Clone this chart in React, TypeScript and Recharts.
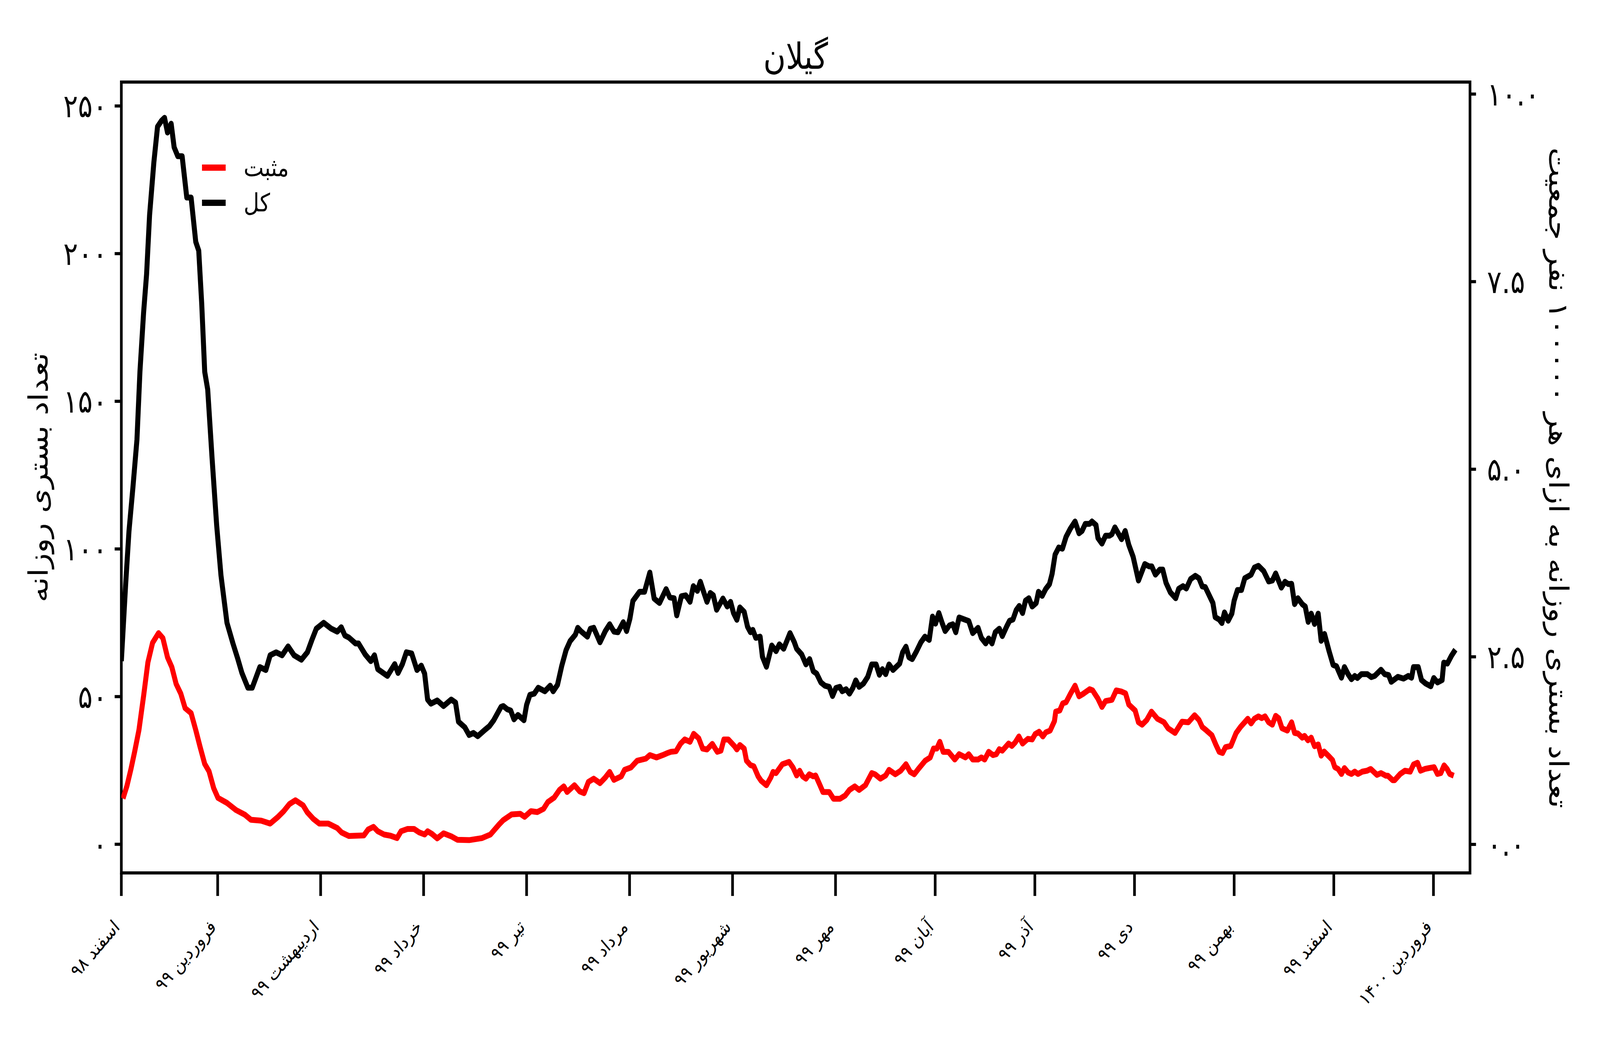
import { Line, LineChart, ReferenceArea, XAxis, YAxis } from 'recharts';

// days since 1 Esfand 1398
const totalDays = [
  0, 1.3, 2.3, 3.5, 4.7, 5.6, 6.7, 7.6, 8.5, 9.8, 10.9, 12.1, 13, 13.9, 15, 15.9, 17, 18.3, 19.7, 21,
  22.4, 23.3, 24.2, 25.1, 26, 27.3, 28.7, 30, 31.8, 33.6, 35, 36.3, 38.1, 39.4, 41.7, 43.5, 44.8, 46.6, 48.4, 50.2,
  52, 54.2, 56, 57.3, 58.7, 60.9, 63.2, 65, 66.2, 67.3, 68.5, 70.5, 71.4, 73.4, 75.1, 76.2, 77.2, 80.1, 82.3, 83.3,
  84.6, 85.8, 87.4, 89, 90.3, 91.3, 92.2, 93.2, 95.1, 97, 99.3, 100.6, 101.5, 103.4, 104.7, 106, 107.3, 109.2, 110.8, 112.1,
  114.3, 115, 116.2, 117.2, 118.2, 119.4, 121.2, 122, 123, 124.3, 125.5, 127.5, 129.1, 130, 131.3, 132.6, 133.9, 135.1, 136.7, 137.4,
  138.3, 140.3, 141.2, 142.2, 144.1, 145.7, 147, 148.3, 149.5, 151.1, 152.1, 153.1, 154, 156, 157.5, 159.1, 160.4, 162, 164, 165.1,
  166.4, 167.2, 168.6, 169.9, 171.2, 172.2, 173.4, 174.3, 175.4, 176.3, 177.3, 178.2, 179.2, 181.1, 182.4, 183.4, 184.3, 185.3, 186.2, 187.5,
  188.5, 189.4, 190.1, 191, 192.3, 193, 194.2, 195.8, 197.1, 198.1, 199.4, 201.3, 202.6, 203.3, 204.8, 206.1, 207.2, 208.3, 209.3, 210.6,
  211.8, 213.1, 214.1, 215.1, 216.3, 217, 218.2, 219.2, 220.2, 221.1, 222.1, 223.4, 224.7, 225.9, 227.2, 228.2, 229.1, 230.1, 231.1, 232.3,
  234.3, 235.2, 236.2, 237.1, 238.1, 239.4, 240.7, 241.9, 243.2, 244.2, 245.1, 246.1, 247.1, 248, 249.3, 250.3, 251.2, 252.2, 255.1, 256.3,
  257.9, 258.9, 260.2, 261.1, 262.1, 263.1, 264.3, 265.2, 266.5, 267.4, 268.4, 269.4, 270.3, 271.3, 272.2, 273.2, 274.2, 275.4, 276.1, 277.2,
  278.3, 279.4, 280.2, 281.1, 282.2, 283.3, 284.4, 285.7, 287.1, 288.3, 289.2, 290.2, 291.5, 292.2, 293.4, 294, 295.2, 296.3, 297.5, 298.2,
  299.1, 301.1, 302.2, 303.3, 304.6, 306.2, 308.1, 309.4, 310.2, 311.3, 312.6, 313.5, 314.5, 315.8, 317.4, 318.3, 319.6, 320.6, 321.9, 323.3,
  324.4, 325.4, 326.3, 328.6, 329.3, 330.5, 331.3, 332.1, 333.2, 334.3, 335, 336, 337.2, 338.2, 340.1, 341.1, 342.3, 343.9, 345.4, 346.5,
  347.5, 349.2, 350.3, 351.3, 352.3, 353.2, 354.2, 355.5, 356.4, 357.3, 358.2, 359.2, 360.3, 361.2, 362.2, 363.6, 364.8, 365.8, 367.3, 368.2,
  369.3, 370.3, 371.3, 372.1, 373.3, 375.1, 376.3, 377.3, 379.2, 380.3, 381.5, 382.3, 384.3, 386, 387.4, 388.4, 389, 390.4, 391.4, 392.7,
  394.2, 395.1, 396.2, 397.6, 398.1, 399.2, 400.4, 401.6,
];
const totalCounts = [
  62, 88, 106, 121, 137, 160, 180, 193, 213, 231, 243, 245, 246, 241, 244, 236, 233, 233, 219, 219,
  204, 201, 183, 160, 154, 131, 108, 91, 75, 68, 63, 58, 53, 53, 60, 59, 64, 65, 64, 67,
  64, 62.5, 65, 69, 73, 75, 73, 72, 73.5, 70.7, 70, 68, 68, 64.3, 62, 64, 59.3, 57, 61, 58,
  61, 65, 64.6, 59, 60.5, 57.8, 49, 47.6, 48.7, 46.8, 49, 48, 41.5, 39.6, 37, 37.7, 36.6, 38.5, 40, 42,
  46.5, 46.8, 45.7, 45.3, 42.3, 43.8, 42, 47.2, 50.6, 51, 53, 51.8, 53.7, 51.8, 54, 60.5, 65.8, 68.8, 71, 73.3,
  72.2, 70.3, 73, 73.3, 68.4, 72.2, 74.5, 72, 71.8, 75.2, 72.2, 76.4, 82.4, 85.5, 85.5, 92, 83.2, 81.7, 86.4, 83.6,
  83.3, 77.5, 84, 84.3, 82.1, 87.4, 85.8, 88.9, 85.1, 82.1, 85.1, 84.3, 79.4, 83.2, 80.5, 82.1, 78.3, 76, 80.2, 78.7,
  73.7, 71.8, 72.6, 69.9, 70.3, 63.5, 60.1, 67.3, 65.4, 67.7, 66.2, 71.5, 68.4, 66.2, 64.3, 60.9, 62.7, 58.6, 57.8, 54.8,
  53.7, 53.3, 50.2, 52.9, 53.3, 51.8, 52.5, 51, 52.9, 55.5, 53.3, 54.4, 56.7, 60.9, 60.9, 57.4, 59.3, 57.6, 60.9, 59,
  61.2, 65, 66.9, 63.3, 62.7, 65.4, 68.4, 70.3, 69.2, 77.1, 74.7, 78.3, 74.9, 72.2, 74.1, 74.5, 71.8, 76.8, 75.6, 71.5,
  73.3, 69.9, 68, 69.7, 68, 71.8, 73, 70.5, 73.7, 75.7, 76.1, 79.3, 80.7, 78.3, 82.5, 83.3, 80.5, 81.7, 85.5, 84.1,
  86.5, 88.1, 91.6, 98.1, 100.5, 100.1, 104.1, 106.9, 109.3, 105.3, 106.1, 108.5, 108.5, 109.3, 108.1, 103.7, 101.8, 104.5, 104.5, 105,
  107.3, 103.3, 106.1, 101.3, 97.3, 89.3, 94.9, 94.1, 94.1, 91.3, 93, 93, 88.5, 85.3, 83.3, 86.5, 87.4, 86.6, 89.8, 90.9,
  90.1, 87.3, 87.1, 81.7, 76.9, 76.1, 74.9, 78.5, 75.7, 78.1, 82.5, 86.1, 86.1, 90.1, 91.3, 93.7, 94.3, 92.5, 89, 89.3,
  91.7, 86.9, 88.9, 88.1, 88.2, 81.3, 83.3, 81.3, 80.5, 75.3, 78.1, 74.6, 78.1, 68.9, 71.2, 65.3, 60.7, 60.3, 56.4, 60,
  57.6, 55.9, 57, 56.3, 57.6, 57.6, 56.6, 57, 59.1, 57.6, 57.3, 55, 56.7, 56.1, 57, 56.4, 60, 60, 55.6, 54.4,
  53.5, 56.3, 54.8, 55.6, 61.5, 61.2, 63.8, 65.9,
];

const positiveDays = [
  0.5, 1.7, 2.9, 4, 5.3, 6.7, 8, 9.4, 11.2, 12.5, 13.9, 15.2, 16.5, 17.9, 19.2, 21, 22.4, 23.7, 25.1, 26.4,
  27.8, 29.1, 31.8, 34.5, 37.2, 39, 42.1, 44.8, 47, 48.8, 50.6, 52.4, 54.7, 56, 57.8, 59.6, 62.3, 65, 66.3, 68.5,
  70.8, 73, 74.3, 75.9, 77.2, 79.1, 81, 83, 84.2, 86.2, 88.1, 89.7, 91.3, 92.2, 93.5, 95.1, 97, 99.3, 101.2, 104.7,
  108.6, 111.1, 113.7, 115, 117.5, 120.1, 121.4, 123.3, 125.2, 127.1, 128.4, 130.3, 131.9, 133.2, 134.2, 136.4, 138, 139.3, 140.6, 142.2,
  144.1, 145.7, 147, 148.3, 150.5, 151.5, 153.4, 155.3, 157.9, 159.1, 161.1, 163, 164.2, 165.4, 167, 168.3, 169.6, 171.2, 172.3, 173.8,
  175, 176.3, 177.9, 179.4, 180.5, 181.4, 182.7, 184.6, 185.3, 186.2, 187.5, 188.2, 189.4, 190.4, 191.7, 192.6, 194.2, 195.5, 196.2, 197.1,
  199, 201, 202.2, 203.3, 204.2, 205.1, 206.1, 207.1, 208.3, 209, 210.2, 211.2, 213.1, 214.4, 216.3, 217.9, 219.2, 220.8, 222.1, 224,
  225.9, 226.9, 228.5, 230.1, 231.1, 233, 234.6, 236.2, 237.5, 238.7, 240, 242, 243.5, 244.5, 245.5, 246.4, 247.4, 249, 250.9, 252.2,
  254.1, 255.1, 256.3, 257.9, 258.9, 259.9, 261.1, 262.4, 263.4, 264.3, 265.2, 267.1, 268.1, 269.1, 270.2, 271.3, 272.9, 274.2, 275.1, 276.3,
  277.4, 278.3, 279.6, 280.9, 281.3, 282.5, 283.4, 284.4, 285.7, 287.1, 288.3, 289.5, 291.5, 292.4, 294, 295.2, 296.3, 298.2, 299.5, 301.1,
  302.3, 303.3, 305.2, 306.2, 307.3, 308.7, 310.1, 311.9, 313.9, 315.1, 317.2, 319.3, 321.2, 323.1, 324.4, 325.4, 326.7, 328.3, 329.5, 330.5,
  331.5, 332.4, 334, 335.6, 336.9, 339.1, 340.1, 341.1, 342.3, 343.3, 344.3, 345.4, 346.5, 347.5, 348.4, 349.4, 351, 352.3, 353.2, 354.2,
  355.5, 356.2, 357.2, 358.2, 359.2, 360.3, 361.2, 362.1, 363.6, 364.6, 365.3, 366.3, 367.3, 368.2, 369.3, 370.3, 371.3, 372.3, 373.6, 375,
  376.1, 378, 379.2, 380.7, 381.3, 382.7, 383.3, 385, 386.4, 388, 389, 390.2, 391.1, 392.4, 393.7, 395.2, 396.2, 397.2, 398.2, 399.1,
  399.9, 401.1,
];
const positiveCounts = [
  15.5, 19.8, 25.5, 31.3, 38.7, 50.2, 61.6, 68.2, 71.5, 69.8, 63.3, 60, 54.3, 51, 46.1, 44.4, 38.7, 33, 27.2, 24.7,
  19, 15.7, 14, 11.6, 10, 8.3, 8, 7, 9.1, 11.1, 13.6, 14.9, 13.2, 10.8, 8.6, 7, 7, 5.5, 4, 2.8,
  2.9, 3, 5, 5.9, 4.4, 3.3, 2.9, 2.1, 4.4, 5.2, 5.2, 4, 3.3, 4.4, 3.5, 2, 3.7, 2.7, 1.5, 1.4,
  2.1, 3.3, 6.7, 8.2, 10.1, 10.3, 9.3, 11.2, 10.9, 12, 14.3, 15.8, 18.4, 19.6, 17.7, 20, 17.9, 17.3, 21.1, 22.2,
  20.7, 22.6, 24.5, 21.8, 23, 25.2, 26, 28.3, 29, 30.2, 29.4, 30.2, 30.8, 31.3, 31.5, 34, 35.5, 34.7, 37.4, 35.9,
  32.4, 32.1, 34, 31.3, 31.7, 35.5, 35.5, 33.2, 32.1, 33.6, 32.4, 28.3, 26.8, 26.4, 23, 21.5, 20, 22.6, 24.5, 24.1,
  27.1, 27.9, 26, 23.3, 24.9, 23, 22.2, 23.7, 23, 23.3, 20.3, 17.7, 17.7, 15.4, 15.4, 16.5, 18.4, 19.6, 18.4, 20,
  24.1, 23.7, 22.2, 23.3, 25.2, 23.7, 24.9, 27.1, 24.5, 23.7, 25.6, 28.3, 29.4, 32.4, 32.4, 34.7, 31.3, 31.3, 28.7, 30.5,
  29.4, 30.5, 28.7, 28.7, 29.4, 28.7, 31.3, 30.2, 30.5, 32.2, 31.7, 34.1, 33.3, 34.5, 36.5, 34.1, 35.7, 35.5, 37.3, 38.1,
  36.5, 37.9, 38.5, 41.7, 44.9, 45.3, 47.7, 48.1, 50.9, 53.7, 50.1, 50.9, 52.5, 52.1, 49.3, 46.5, 48.5, 48.9, 52.1, 51.7,
  51.1, 47.3, 45.3, 41.3, 40.5, 42.1, 44.9, 42.5, 41.3, 39.3, 37.7, 41.5, 41.3, 43.7, 42.1, 39.7, 38.5, 36.9, 33.7, 31.3,
  30.9, 32.9, 33.3, 37.7, 39.7, 42.5, 40.9, 42.5, 43.3, 42.7, 43.3, 41.3, 40.5, 43.5, 42.7, 39.3, 38.5, 41.3, 37.7, 37.5,
  36.1, 36.7, 35.2, 36.1, 33.2, 33.8, 30, 31.4, 29.7, 28.5, 26.1, 25.5, 23.8, 25.8, 24.3, 23.8, 24.6, 23.8, 24.6, 24.9,
  25.5, 23.5, 24.1, 23.2, 23.2, 21.7, 21.7, 23.8, 24.9, 24.6, 27, 27.6, 24.9, 25.5, 25.8, 26.1, 23.8, 24.1, 26.7, 25.5,
  23.8, 23.2,
];

const monthTicks = [0, 29, 60, 91, 122, 153, 184, 215, 245, 275, 305, 335, 365, 395];
const monthLabels = [
  'اسفند ۹۸', 'فروردین ۹۹', 'اردیبهشت ۹۹', 'خرداد ۹۹', 'تیر ۹۹', 'مرداد ۹۹', 'شهریور ۹۹',
  'مهر ۹۹', 'آبان ۹۹', 'آذر ۹۹', 'دی ۹۹', 'بهمن ۹۹', 'اسفند ۹۹', 'فروردین ۱۴۰۰',
];
const countTicks = [0, 50, 100, 150, 200, 250];
const rateTicks = [0, 2.5, 5, 7.5, 10];

const FONT = '"DejaVu Sans", sans-serif';
const W = 4800;
const H = 2700;
const toFa = (s: string) => s.replace(/\d/g, d => '۰۱۲۳۴۵۶۷۸۹'[Number(d)]);

const totalData = totalDays.map((day, i) => ({ day, value: totalCounts[i] }));
const positiveData = positiveDays.map((day, i) => ({ day, value: positiveCounts[i] }));

function MonthTick({ x, y, payload }: { x?: number; y?: number; payload?: { value: number } }) {
  const label = monthLabels[monthTicks.indexOf(payload?.value ?? -1)] ?? '';
  const ax = (x ?? 0) - 2;
  const ay = (y ?? 0) + 80;
  return (
    <text
      x={ax}
      y={ay}
      textAnchor="end"
      transform={`rotate(-45, ${ax}, ${ay})`}
      fontSize={48}
      fontFamily={FONT}
      fill="#000"
    >
      {label}
    </text>
  );
}

export default function App() {
  // the browser window can come out smaller than asked; stretch the 4800x2700 layout to fill it
  const vw = typeof window !== 'undefined' ? window.innerWidth : W;
  const vh = typeof window !== 'undefined' ? window.innerHeight : H;
  const sx = Math.min(1, vw / W);
  const sy = Math.min(1, vh / H);

  return (
    <div style={{ position: 'absolute', left: 0, top: 0, width: W * sx, height: H * sy, overflow: 'hidden', background: '#fff' }}>
      <div style={{ position: 'absolute', left: 0, top: 0, width: W, height: H, transform: `scale(${sx}, ${sy})`, transformOrigin: '0 0', fontFamily: FONT }}>
        <LineChart width={W} height={H} margin={{ top: 210, right: 0, bottom: 0, left: 0 }}>
          <XAxis
            type="number"
            dataKey="day"
            domain={[0, 406]}
            allowDataOverflow
            ticks={monthTicks}
            interval={0}
            height={466}
            axisLine={false}
            tickSize={59}
            tickLine={{ stroke: '#000', strokeWidth: 8 }}
            tick={<MonthTick />}
          />
          <YAxis
            yAxisId="left"
            type="number"
            domain={[-9.7, 258.1]}
            allowDataOverflow
            ticks={countTicks}
            interval={0}
            width={364}
            axisLine={false}
            tickSize={20}
            tickMargin={22}
            tickLine={{ stroke: '#000', strokeWidth: 8 }}
            tick={{ fontSize: 82, fontFamily: FONT, fill: '#000' }}
            tickFormatter={(v: number) => toFa(String(v))}
          />
          <YAxis
            yAxisId="right"
            orientation="right"
            type="number"
            domain={[-0.38, 10.16]}
            allowDataOverflow
            ticks={rateTicks}
            interval={0}
            width={390}
            axisLine={false}
            tickSize={18}
            tickMargin={33}
            tickLine={{ stroke: '#000', strokeWidth: 8 }}
            tick={{ fontSize: 82, fontFamily: FONT, fill: '#000' }}
            tickFormatter={(v: number) => toFa(v.toFixed(1))}
          />
          <ReferenceArea
            yAxisId="left"
            x1={0}
            x2={406}
            y1={-9.7}
            y2={258.1}
            fill="none"
            stroke="#000"
            strokeWidth={8}
            ifOverflow="visible"
          />
          <Line
            yAxisId="left"
            data={positiveData}
            dataKey="value"
            type="linear"
            stroke="#ff0000"
            strokeWidth={15}
            strokeLinejoin="round"
            dot={false}
            activeDot={false}
            isAnimationActive={false}
          />
          <Line
            yAxisId="left"
            data={totalData}
            dataKey="value"
            type="linear"
            stroke="#000000"
            strokeWidth={15}
            strokeLinejoin="round"
            dot={false}
            activeDot={false}
            isAnimationActive={false}
          />
        </LineChart>

        <div style={{ position: 'absolute', left: 2387, top: 144, transform: 'translate(-50%, -50%)', fontSize: 92, whiteSpace: 'nowrap' }}>
          گیلان
        </div>

        <div style={{ position: 'absolute', left: 116, top: 1222, transform: 'translate(-50%, -50%) rotate(-90deg)', fontSize: 80, whiteSpace: 'nowrap' }}>
          تعداد بستری روزانه
        </div>
        <div style={{ position: 'absolute', left: 4675, top: 1223, transform: 'translate(-50%, -50%) rotate(90deg)', fontSize: 80, whiteSpace: 'nowrap' }}>
          تعداد بستری روزانه به ازای هر ۱۰۰۰۰۰ نفر جمعیت
        </div>

        <div style={{ position: 'absolute', left: 606, top: 384, fontSize: 64, lineHeight: '90px' }}>
          <div style={{ display: 'flex', alignItems: 'center', gap: 54 }}>
            <span style={{ width: 71, height: 16, background: '#ff0000', display: 'inline-block' }} />
            <span>مثبت</span>
          </div>
          <div style={{ display: 'flex', alignItems: 'center', gap: 54 }}>
            <span style={{ width: 71, height: 16, background: '#000', display: 'inline-block' }} />
            <span>کل</span>
          </div>
        </div>
      </div>
    </div>
  );
}
